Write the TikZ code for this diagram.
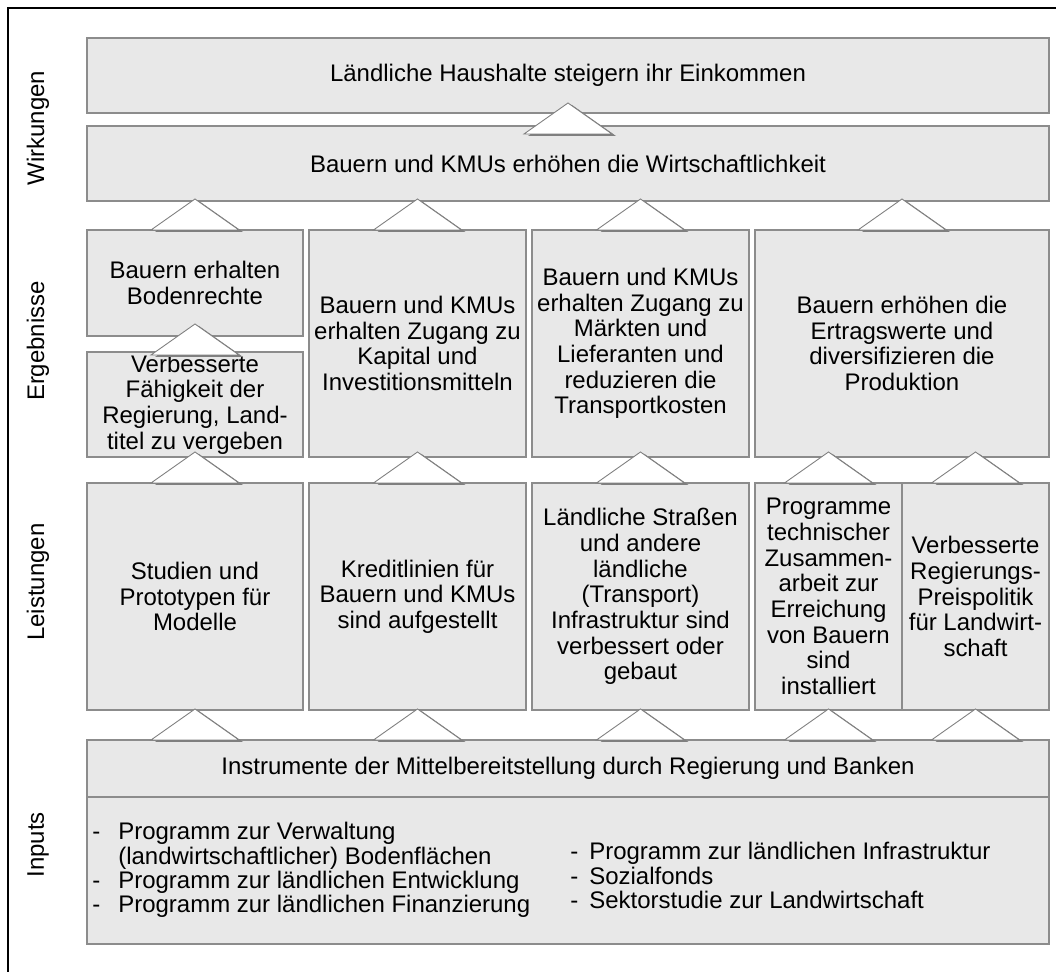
\documentclass[tikz,border=0pt]{standalone}
\usepackage{fontspec}
\setmainfont{Liberation Sans}
\usetikzlibrary{calc}

\definecolor{boxfill}{HTML}{E8E8E8}
\definecolor{boxline}{HTML}{8C8C8C}
\definecolor{trishade}{HTML}{7F7F7F}

\tikzset{
  box/.style={draw=boxline, fill=boxfill, line width=0.7pt, inner sep=0pt, outer sep=0pt, align=center, font=\fontsize{13.65pt}{14.6pt}\selectfont},
  boxsize/.style 2 args={minimum width=#1*0.02cm, minimum height=#2*0.02cm},
  listtext/.style={inner sep=0pt, align=left, anchor=north west, font=\fontsize{13.65pt}{13.9pt}\selectfont},
  level/.style={rotate=90, inner sep=0pt, font=\fontsize{13.65pt}{14.6pt}\selectfont},
  uptri/.pic={
    \fill[trishade] (-40,2) -- (4,-29) -- (48,2) -- cycle;
    \filldraw[draw=trishade, fill=white, line width=0.5pt] (-44,0) -- (0,-31) -- (44,0) -- cycle;
  }
}

\begin{document}
\begin{tikzpicture}[x=0.02cm, y=-0.02cm]

\useasboundingbox (0,0) rectangle (1056,972);
\draw[black, line width=1.1pt] (8,972) -- (8,8) -- (1056,8);

\node[level] (LW) at (38,128) {Wirkungen};
\node[level] (LE) at (38,341) {Ergebnisse};
\node[level] (LL) at (38,582) {Leistungen};
\node[level] (LI) at (38,845) {Inputs};

\node[box, boxsize={962}{75}] (W1) at (568,75.5) {Ländliche Haushalte steigern ihr Einkommen};
\node[box, boxsize={962}{75}] (W2) at (568,163.5) {Bauern und KMUs erhöhen die Wirtschaftlichkeit};

\node[box, boxsize={216}{106}] (E1) at (195,283) {Bauern erhalten\\Bodenrechte};
\node[box, boxsize={216}{105}] (E1b) at (195,404.5) {Verbesserte\\Fähigkeit der\\Regierung, Land-\\titel zu vergeben};
\node[box, boxsize={217}{227}] (E2) at (417.5,343.5) {Bauern und KMUs\\erhalten Zugang zu\\Kapital und\\Investitionsmitteln};
\node[box, boxsize={217}{227}] (E3) at (640.5,343.5) {Bauern und KMUs\\erhalten Zugang zu\\Märkten und\\Lieferanten und\\reduzieren die\\Transportkosten};
\node[box, boxsize={294}{227}] (E4) at (902,343.5) {Bauern erhöhen die\\Ertragswerte und\\diversifizieren die\\Produktion};

\node[box, boxsize={216}{227}] (L1) at (195,596.5) {Studien und\\Prototypen für\\Modelle};
\node[box, boxsize={217}{227}] (L2) at (417.5,596.5) {Kreditlinien für\\Bauern und KMUs\\sind aufgestellt};
\node[box, boxsize={217}{227}] (L3) at (640.5,596.5) {Ländliche Straßen\\und andere\\ländliche\\(Transport)\\Infrastruktur sind\\verbessert oder\\gebaut};
\node[box, boxsize={147}{227}] (L4) at (828.5,596.5) {Programme\\technischer\\Zusammen-\\arbeit zur\\Erreichung\\von Bauern\\sind\\installiert};
\node[box, boxsize={147}{227}] (L5) at (975.5,596.5) {Verbesserte\\Regierungs-\\Preispolitik\\für Landwirt-\\schaft};

\node[box, boxsize={962}{57}] (I1) at (568,768.5) {Instrumente der Mittelbereitstellung durch Regierung und Banken};
\node[box, boxsize={962}{147}] (I2) at (568,870.5) {};
\node[listtext] (P1) at (92,822) {\makebox[0.52cm][l]{-}Programm zur Verwaltung\\
  \hspace*{0.52cm}(landwirtschaftlicher) Bodenflächen\\
  \makebox[0.52cm][l]{-}Programm zur ländlichen Entwicklung\\
  \makebox[0.52cm][l]{-}Programm zur ländlichen Finanzierung};
\node[listtext] (P2) at (570,842) {\makebox[0.38cm][l]{-}Programm zur ländlichen Infrastruktur\\
  \makebox[0.38cm][l]{-}Sozialfonds\\
  \makebox[0.38cm][l]{-}Sektorstudie zur Landwirtschaft};

\pic at ($(W2.north)+(0,8)$) {uptri};
\foreach \n in {E1,E2,E3,E4}
  \pic at (\n.north) {uptri};
\pic at ($(E1b.north)+(0,3)$) {uptri};
\foreach \n in {L1,L2,L3,L4,L5}
  \pic at (\n.north) {uptri};
\foreach \n in {L1,L2,L3,L4,L5}
  \pic at (\n.south |- I1.north) {uptri};

\end{tikzpicture}
\end{document}
